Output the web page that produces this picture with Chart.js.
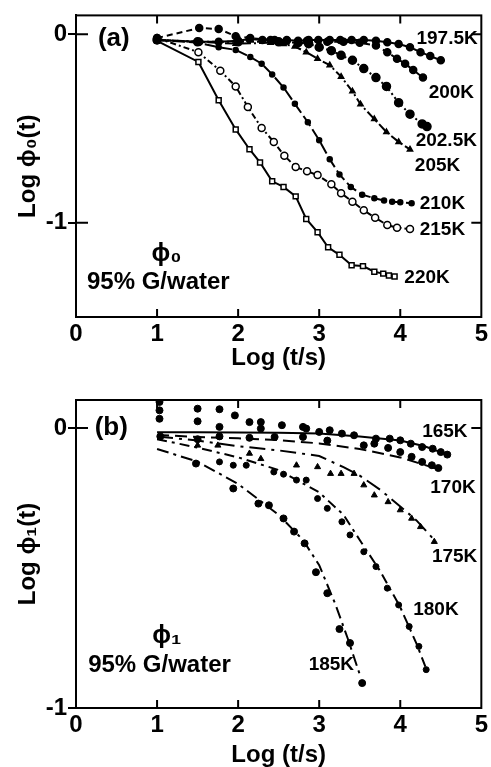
<!DOCTYPE html>
<html lang="en">
<head>
<meta charset="UTF-8" />
<title>Log phi(t) vs Log t - 95% G/water</title>
<script src="https://cdn.jsdelivr.net/npm/chart.js"></script>
<style>
  body { margin:0; background:#fff; }
  .panel { position:absolute; left:0; width:491px; }
  #wrapA { top:0; height:380px; }
  #wrapB { top:380px; height:387px; }
</style>
</head>
<body>
<div class="panel" id="wrapA"><canvas id="chartA" width="491" height="380"></canvas></div>
<div class="panel" id="wrapB"><canvas id="chartB" width="491" height="387"></canvas></div>
<script>
// ---- panel (a): phi0, log t vs log phi0 ----
const xTicks = [0, 1, 2, 3, 4, 5];
const yTicksA = [0, -1];
const yTicksB = [0, -1];

const a197x = [1.0,1.52,1.76,2.0,2.14,2.3,2.45,2.6,2.74,2.87,2.99,3.13,3.26,3.4,3.55,3.70,3.84,3.98,4.12,4.25,4.37,4.50];
const a197y = [-0.03,-0.04,-0.04,-0.035,-0.025,-0.03,-0.03,-0.03,-0.035,-0.03,-0.03,-0.03,-0.03,-0.03,-0.03,-0.035,-0.043,-0.052,-0.069,-0.095,-0.116,-0.138];
const a200x = [1.0,1.52,1.76,1.97,2.15,2.4,2.6,2.85,3.1,3.3,3.5,3.7,3.84,3.96,4.06,4.16,4.28];
const a200y = [-0.02,0.033,0.028,-0.01,-0.02,-0.03,-0.035,-0.035,-0.04,-0.04,-0.045,-0.06,-0.095,-0.13,-0.156,-0.19,-0.23];
const a202x = [1.0,1.5,2.0,2.5,2.74,2.87,3.0,3.15,3.27,3.41,3.55,3.70,3.83,3.98,4.12,4.27,4.33];
const a202y = [-0.03,-0.04,-0.04,-0.04,-0.045,-0.05,-0.069,-0.087,-0.112,-0.138,-0.182,-0.230,-0.277,-0.363,-0.424,-0.476,-0.49];
const a205x = [1.0,1.5,1.97,2.4,2.56,2.7,2.84,2.98,3.13,3.27,3.41,3.51,3.68,3.83,3.98,4.12];
const a205y = [-0.03,-0.04,-0.05,-0.045,-0.052,-0.065,-0.095,-0.13,-0.164,-0.225,-0.303,-0.372,-0.45,-0.519,-0.571,-0.611];
const a210x = [1.0,1.51,1.76,1.97,2.15,2.29,2.42,2.56,2.70,2.86,3.0,3.13,3.25,3.39,3.53,3.68,3.80,3.90,4.0,4.14];
const a210y = [-0.03,-0.045,-0.069,-0.083,-0.121,-0.156,-0.213,-0.282,-0.369,-0.467,-0.562,-0.663,-0.744,-0.81,-0.851,-0.870,-0.882,-0.888,-0.891,-0.896];
const a215x = [1.0,1.51,1.78,1.97,2.12,2.29,2.44,2.57,2.71,2.85,2.98,3.15,3.27,3.41,3.55,3.69,3.84,3.96,4.12];
const a215y = [-0.02,-0.095,-0.194,-0.277,-0.386,-0.497,-0.571,-0.644,-0.704,-0.727,-0.747,-0.796,-0.843,-0.888,-0.934,-0.974,-1.012,-1.026,-1.033];
const a220x = [1.0,1.51,1.76,1.97,2.14,2.27,2.42,2.56,2.71,2.84,2.98,3.11,3.25,3.40,3.54,3.68,3.79,3.86,3.93];
const a220y = [-0.035,-0.147,-0.35,-0.505,-0.61,-0.68,-0.78,-0.81,-0.86,-0.98,-1.05,-1.13,-1.17,-1.225,-1.23,-1.26,-1.27,-1.28,-1.285];

// ---- panel (b): phi1, measured points + fitted curves ----
const b165x = [1.03,1.03,1.03,1.50,1.50,1.77,1.77,1.96,2.14,2.28,2.28,2.54,2.80,2.84,3.0,3.13,3.28,3.43,3.70,3.87,4.0,4.13,4.27,4.40,4.50,4.58];
const b165y = [0.093,0.063,0.033,0.069,0.024,0.067,0.004,0.045,0.021,0.021,-0.002,0.01,0.004,-0.002,-0.014,-0.008,-0.02,-0.026,-0.038,-0.038,-0.044,-0.056,-0.068,-0.074,-0.086,-0.095];
const b170x = [1.04,1.50,1.77,2.14,2.45,2.80,3.1,3.55,3.68,3.85,4.0,4.14,4.27,4.39,4.47];
const b170y = [-0.03,-0.04,-0.03,-0.035,-0.032,-0.032,-0.045,-0.062,-0.056,-0.071,-0.086,-0.103,-0.121,-0.133,-0.143];
const b175x = [1.50,1.75,2.14,2.28,2.72,2.98,3.14,3.27,3.43,3.55,3.68,3.85,4.0,4.14,4.25,4.42];
const b175y = [-0.062,-0.062,-0.091,-0.11,-0.133,-0.139,-0.163,-0.163,-0.163,-0.204,-0.24,-0.264,-0.293,-0.323,-0.353,-0.406];
const b180x = [1.77,1.94,2.10,2.44,2.56,2.72,2.84,2.98,3.10,3.28,3.38,3.55,3.70,3.84,3.98,4.11,4.23,4.32];
const b180y = [-0.121,-0.133,-0.133,-0.157,-0.165,-0.186,-0.186,-0.252,-0.287,-0.335,-0.382,-0.442,-0.495,-0.572,-0.632,-0.709,-0.78,-0.863];
const b185x = [1.48,1.94,2.25,2.38,2.56,2.69,2.82,2.96,3.10,3.25,3.38,3.53];
const b185y = [-0.127,-0.216,-0.27,-0.276,-0.323,-0.37,-0.412,-0.515,-0.59,-0.718,-0.768,-0.911];

const f165x = [1.0,1.5,2.0,2.5,3.0,3.5,4.0,4.3,4.58];
const f165y = [-0.015,-0.015,-0.016,-0.017,-0.02,-0.03,-0.045,-0.065,-0.095];
const f170x = [1.0,1.5,2.0,2.5,3.0,3.5,4.0,4.5];
const f170y = [-0.025,-0.032,-0.037,-0.043,-0.055,-0.075,-0.105,-0.15];
const f175x = [1.0,1.5,2.0,2.5,3.0,3.3,3.5,3.75,4.0,4.2,4.42];
const f175y = [-0.03,-0.045,-0.065,-0.08,-0.10,-0.14,-0.17,-0.22,-0.28,-0.33,-0.40];
const f180x = [1.0,1.5,2.0,2.5,3.0,3.3,3.5,3.75,4.0,4.2,4.32];
const f180y = [-0.04,-0.07,-0.105,-0.15,-0.23,-0.31,-0.40,-0.51,-0.64,-0.77,-0.86];
const f185x = [1.0,1.5,2.0,2.5,2.8,3.0,3.2,3.35,3.5];
const f185y = [-0.075,-0.12,-0.20,-0.31,-0.40,-0.49,-0.63,-0.75,-0.88];

const FONT = 'Liberation Sans';

function pts(xs, ys) { return xs.map((x, i) => ({x: x, y: ys[i]})); }

function lineSet(label, xs, ys, dash, style, radius, fill) {
  return {
    label: label, data: pts(xs, ys), showLine: true,
    borderColor: '#000', borderWidth: 2, borderDash: dash,
    pointStyle: style, pointRadius: radius, pointBorderWidth: 1.5,
    pointBorderColor: '#000', pointBackgroundColor: fill || '#000'
  };
}
function dotSet(label, xs, ys, style, radius) {
  return {
    label: label, data: pts(xs, ys), showLine: false,
    pointStyle: style || 'circle', pointRadius: radius || 3.5,
    pointBorderColor: '#000', pointBackgroundColor: '#000', pointBorderWidth: 1
  };
}
function fitSet(label, xs, ys, dash) {
  return {
    label: label, data: pts(xs, ys), showLine: true, pointRadius: 0,
    borderColor: '#000', borderWidth: 2, borderDash: dash
  };
}

// frame, inner ticks and the text labels, all placed through the scales
function framePlugin(yTicks, labels) {
  return {
    id: 'frame',
    afterDatasetsDraw(chart) {
      const ctx = chart.ctx, a = chart.chartArea, x = chart.scales.x, y = chart.scales.y;
      ctx.save();
      ctx.strokeStyle = '#000';
      ctx.lineWidth = 2;
      ctx.strokeRect(a.left, a.top, a.width, a.height);
      ctx.beginPath();
      xTicks.slice(1, -1).forEach(v => {
        const px = x.getPixelForValue(v);
        ctx.moveTo(px, a.top); ctx.lineTo(px, a.top + 8);
        ctx.moveTo(px, a.bottom); ctx.lineTo(px, a.bottom - 8);
      });
      yTicks.forEach(v => {
        const py = y.getPixelForValue(v);
        ctx.moveTo(a.left, py); ctx.lineTo(a.left + 12, py);
        ctx.moveTo(a.right, py); ctx.lineTo(a.right - 10, py);
      });
      ctx.stroke();
      ctx.fillStyle = '#000';
      ctx.textBaseline = 'middle';
      ctx.textAlign = 'left';
      labels.forEach(l => {
        ctx.font = 'bold ' + l.size + 'px "' + FONT + '"';
        ctx.fillText(l.text, x.getPixelForValue(l.x), y.getPixelForValue(l.y));
      });
      ctx.restore();
    }
  };
}

function makeOptions(yMin, yMax, yTicks, yTitle, xHeight, titleBottom, pad) {
  return {
    responsive: false, animation: false,
    layout: { padding: pad },
    plugins: { legend: { display: false }, tooltip: { enabled: false } },
    scales: {
      x: {
        type: 'linear', min: 0, max: 5,
        afterBuildTicks: s => { s.ticks = xTicks.map(v => ({value: v})); },
        afterFit: s => { s.height = xHeight; },
        grid: { drawOnChartArea: false, drawTicks: false },
        border: { color: '#000', width: 2 },
        ticks: { color: '#000', font: { family: FONT, size: 24, weight: 'bold' }, padding: 3, maxRotation: 0 },
        title: { display: true, text: 'Log (t/s)', color: '#000',
                 font: { family: FONT, size: 24, weight: 'bold', lineHeight: 1 }, padding: { top: 0, bottom: titleBottom } }
      },
      y: {
        type: 'linear', min: yMin, max: yMax,
        afterBuildTicks: s => { s.ticks = yTicks.map(v => ({value: v})); },
        afterFit: s => { s.width = 76; },
        grid: { drawOnChartArea: false, drawTicks: true, tickLength: 8, color: '#000', lineWidth: 2 },
        border: { color: '#000', width: 2 },
        ticks: { color: '#000', font: { family: FONT, size: 24, weight: 'bold' }, padding: 1 },
        title: { display: true, text: yTitle, color: '#000',
                 font: { family: FONT, size: 24, weight: 'bold', lineHeight: 1 }, padding: { top: 16, bottom: 0 } }
      }
    }
  };
}

const labelsA = [
  {text: '(a)', x: 0.27, y: -0.026, size: 26},
  {text: '197.5K', x: 4.20, y: -0.026, size: 19},
  {text: '200K', x: 4.35, y: -0.311, size: 19},
  {text: '202.5K', x: 4.19, y: -0.565, size: 19},
  {text: '205K', x: 4.18, y: -0.70, size: 19},
  {text: '210K', x: 4.24, y: -0.90, size: 19},
  {text: '215K', x: 4.24, y: -1.036, size: 19},
  {text: '220K', x: 4.05, y: -1.29, size: 19},
  {text: 'ϕ₀', x: 0.93, y: -1.166, size: 25},
  {text: '95% G/water', x: 0.135, y: -1.316, size: 24}
];
const labelsB = [
  {text: '(b)', x: 0.23, y: 0.0, size: 26},
  {text: '165K', x: 4.27, y: -0.014, size: 19},
  {text: '170K', x: 4.37, y: -0.214, size: 19},
  {text: '175K', x: 4.39, y: -0.46, size: 19},
  {text: '180K', x: 4.16, y: -0.65, size: 19},
  {text: '185K', x: 2.87, y: -0.846, size: 19},
  {text: 'ϕ₁', x: 0.94, y: -0.743, size: 25},
  {text: '95% G/water', x: 0.15, y: -0.846, size: 24}
];

new Chart(document.getElementById('chartA'), {
  type: 'scatter',
  data: { datasets: [
    lineSet('197.5K', a197x, a197y, [], 'circle', 3.5),
    lineSet('200K', a200x, a200y, [6, 4], 'circle', 3.5),
    lineSet('202.5K', a202x, a202y, [2, 3], 'circle', 4),
    lineSet('205K', a205x, a205y, [9, 3, 2, 3], 'triangle', 3),
    lineSet('210K', a210x, a210y, [12, 4], 'circle', 2.5),
    lineSet('215K', a215x, a215y, [6, 3, 2, 3], 'circle', 3.5, '#fff'),
    lineSet('220K', a220x, a220y, [], 'rect', 3.5, '#fff')
  ]},
  options: makeOptions(-1.5, 0.1, yTicksA, 'Log ϕ₀(t)', 63, 10, {left: 0, right: 8, top: 10, bottom: 0}),
  plugins: [framePlugin(yTicksA, labelsA)]
});

new Chart(document.getElementById('chartB'), {
  type: 'scatter',
  data: { datasets: [
    fitSet('165K fit', f165x, f165y, []),
    fitSet('170K fit', f170x, f170y, [12, 6]),
    fitSet('175K fit', f175x, f175y, [16, 6, 3, 6]),
    fitSet('180K fit', f180x, f180y, [10, 5, 3, 5]),
    fitSet('185K fit', f185x, f185y, [12, 5, 3, 5]),
    dotSet('165K', b165x, b165y),
    dotSet('170K', b170x, b170y),
    dotSet('175K', b175x, b175y, 'triangle', 3.5),
    dotSet('180K', b180x, b180y, 'circle', 3),
    dotSet('185K', b185x, b185y, 'circle', 3.5)
  ]},
  options: makeOptions(-1, 0.1, yTicksB, 'Log ϕ₁(t)', 59, 0, {left: 0, right: 7, top: 20, bottom: 0}),
  plugins: [framePlugin(yTicksB, labelsB)]
});
</script>
</body>
</html>
